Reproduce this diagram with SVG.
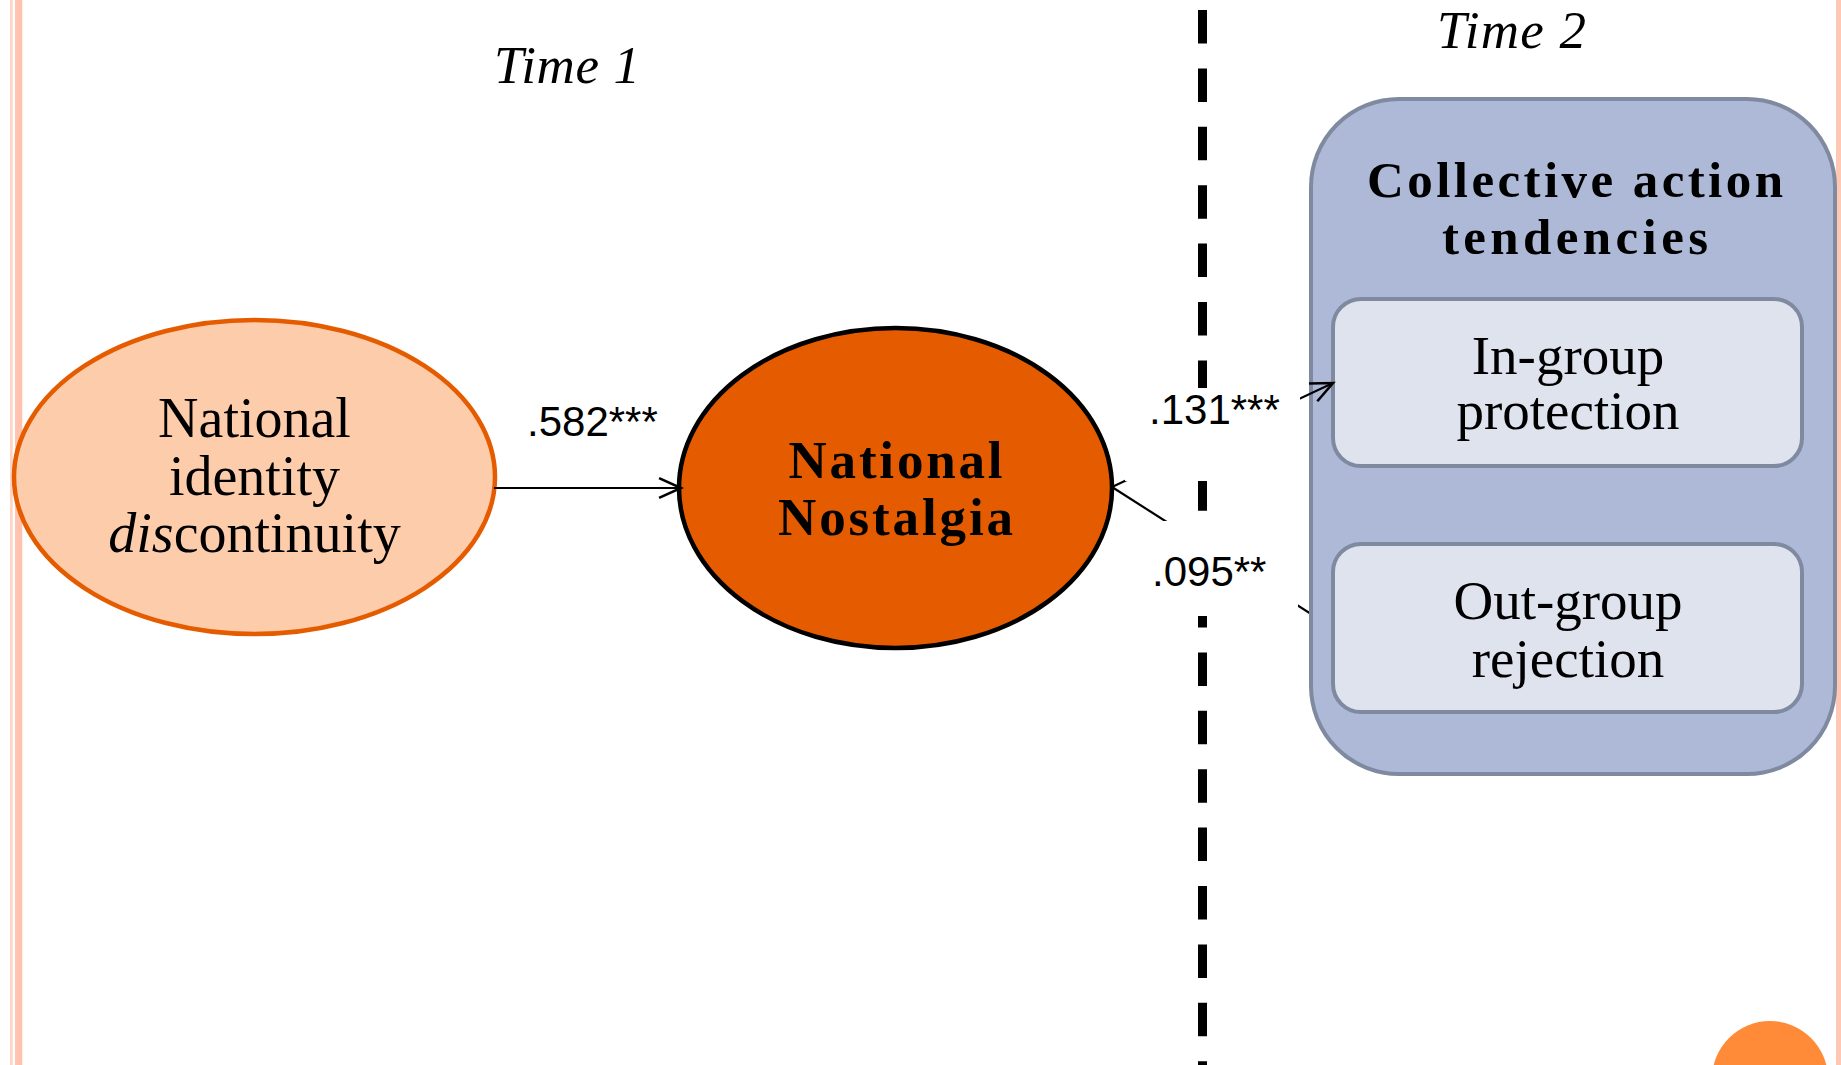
<svg xmlns="http://www.w3.org/2000/svg" width="1841" height="1065" viewBox="0 0 1841 1065">
<style>
.serif{font-family:"Liberation Serif","Times New Roman",serif;fill:#000}
.sans{font-family:"Liberation Sans",Arial,sans-serif;fill:#000;font-size:42px}
.conn{fill:none;stroke:#000;stroke-width:2.2}
.inner{fill:#DFE3EE;stroke:#7F8AA0;stroke-width:4}
</style>
<defs>
<marker id="open" markerUnits="userSpaceOnUse" markerWidth="30" markerHeight="30" viewBox="-22 -12 26 24" refX="0" refY="0" orient="auto">
<path d="M-19,-8.5 L0,0 L-19,8.5" fill="none" stroke="#000" stroke-width="2.2"/>
</marker>
</defs>
<rect width="1841" height="1065" fill="#fff"/>
<g id="frame">
<rect x="10" y="0" width="2.7" height="1065" fill="#FFD3C5"/>
<rect x="15" y="0" width="7.3" height="1065" fill="#FFC3AF"/>
<rect x="1836" y="0" width="5" height="1065" fill="#FFC8B4"/>
<circle cx="1770" cy="1079" r="58" fill="#FF8A38"/>
</g>
<g id="time-labels">
<text class="serif" x="494" y="83" font-size="53" font-style="italic" textLength="146" lengthAdjust="spacing">Time 1</text>
<text class="serif" x="1437" y="48" font-size="53" font-style="italic" textLength="149" lengthAdjust="spacing">Time 2</text>
</g>
<g id="divider">
<line x1="1202.5" y1="10" x2="1202.5" y2="1065" stroke="#000" stroke-width="9" stroke-dasharray="33.5 24.9"/>
</g>
<g id="connector-under">
<line class="conn" x1="1112" y1="487" x2="1333" y2="628" marker-end="url(#open)"/>
</g>
<g id="node-discontinuity">
<ellipse cx="254.5" cy="477" rx="240.5" ry="157" fill="#FDCDAB" stroke="#E55C00" stroke-width="4.5"/>
<text class="serif" font-size="56" text-anchor="middle"><tspan x="254.5" y="437">National</tspan><tspan x="254.5" y="495">identity</tspan><tspan x="254.5" y="552"><tspan font-style="italic">dis</tspan>continuity</tspan></text>
</g>
<g id="node-nostalgia">
<ellipse cx="895.5" cy="488" rx="216.5" ry="160" fill="#E55C00" stroke="#000" stroke-width="4.5"/>
<text class="serif" font-size="53" font-weight="bold" text-anchor="middle"><tspan x="895.5" y="478" textLength="214" lengthAdjust="spacing">National</tspan><tspan x="895.5" y="535" textLength="235" lengthAdjust="spacing">Nostalgia</tspan></text>
</g>
<g id="node-collective">
<rect x="1311" y="99" width="524" height="675" rx="88" ry="88" fill="#ADB9D6" stroke="#7F8AA0" stroke-width="4"/>
<text class="serif" font-size="51" font-weight="bold" text-anchor="middle"><tspan x="1575" y="197" textLength="416" lengthAdjust="spacing">Collective action</tspan><tspan x="1575" y="254" textLength="266" lengthAdjust="spacing">tendencies</tspan></text>
</g>
<g id="node-ingroup">
<rect class="inner" x="1333" y="299" width="469" height="167" rx="28" ry="28"/>
<text class="serif" font-size="55" text-anchor="middle"><tspan x="1568" y="374">In-group</tspan><tspan x="1568" y="429">protection</tspan></text>
</g>
<g id="node-outgroup">
<rect class="inner" x="1333" y="544" width="469" height="168" rx="28" ry="28"/>
<text class="serif" font-size="55" text-anchor="middle"><tspan x="1568" y="619">Out-group</tspan><tspan x="1568" y="677">rejection</tspan></text>
</g>
<g id="connectors">
<line class="conn" x1="494" y1="488" x2="681" y2="488" marker-end="url(#open)"/>
<line class="conn" x1="1112" y1="487" x2="1333" y2="383" marker-end="url(#open)"/>
<rect x="1125" y="388" width="175" height="93" fill="#fff"/>
<rect x="1150" y="521" width="148" height="95" fill="#fff"/>
<text class="sans" x="527" y="436">.582***</text>
<text class="sans" x="1149" y="424">.131***</text>
<text class="sans" x="1152" y="586">.095**</text>
</g>
</svg>
